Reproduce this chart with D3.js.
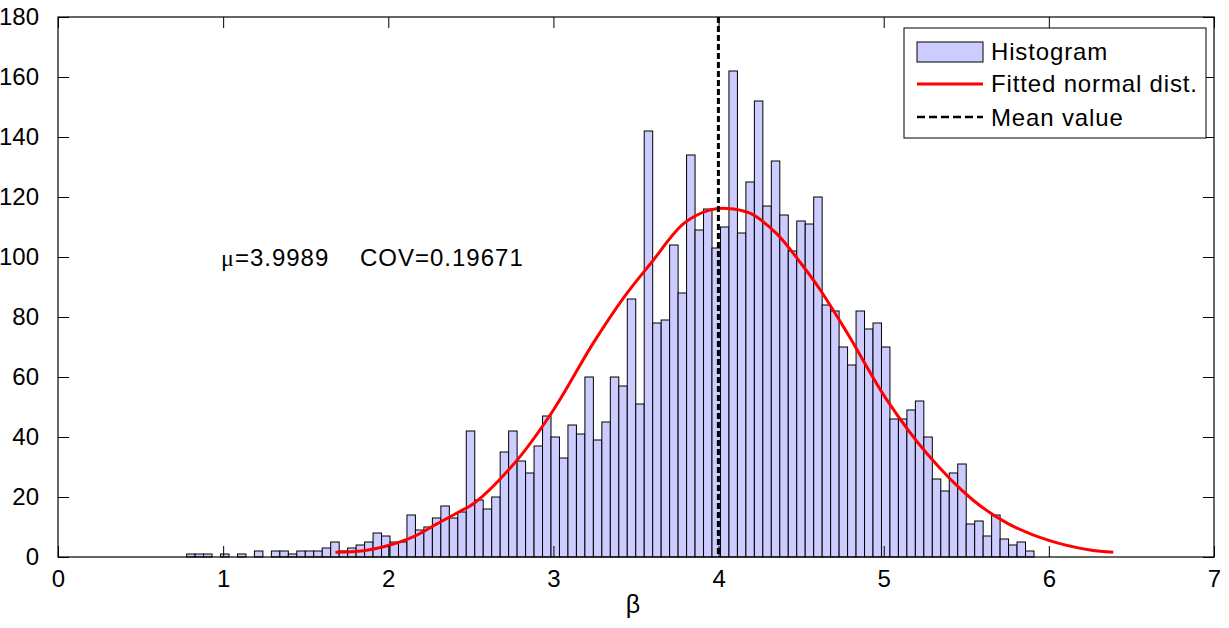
<!DOCTYPE html>
<html>
<head>
<meta charset="utf-8">
<script src="https://cdn.jsdelivr.net/npm/d3@7"></script>
<style>
  html, body { margin: 0; padding: 0; background: #fff; }
  svg { display: block; }
  text { font-family: "Liberation Sans", Arial, sans-serif; fill: #000; }
</style>
</head>
<body>
<svg id="chart" width="1229" height="628"></svg>
<script>
// ---- data ----
const binMin = 0.779;
const binMax = 5.910;
const counts = [
  1,1,1,0,1,0,1,0,2,0,
  2,2,1,2,2,2,3,5,2,3,
  4,5,8,7,5,5,14,9,10,13,
  17,13,15,42,19,16,20,35,42,32,
  28,37,47,40,33,44,41,60,39,45,
  60,57,86,51,142,78,79,104,88,134,
  109,116,103,110,162,108,125,152,117,132,
  114,102,112,111,120,84,82,70,64,82,
  76,78,70,46,46,49,52,40,26,22,
  28,31,11,12,7,14,6,4,5,2
];
const fitX = [1.68,1.85,2.01,2.15,2.30,2.43,2.52,2.78,3.00,3.24,3.43,3.59,3.79,3.95,4.05,4.19,4.35,4.49,4.61,4.78,5.02,5.26,5.54,5.75,5.99,6.25,6.39];
const fitY = [1.6,2.1,4.0,6.7,11.2,15.1,17.9,32.3,49.0,71.2,86.8,97.9,111.2,115.7,116.2,114.6,107.9,98.5,89.5,74.6,52.3,34.6,19.0,11.2,5.7,2.3,1.6];
const meanValue = 3.9989;
const covValue = 0.19671;
const xTicks = [0,1,2,3,4,5,6,7];
const yTicks = [0,20,40,60,80,100,120,140,160,180];
const legendLabels = ["Histogram", "Fitted normal dist.", "Mean value"];

// ---- layout ----
const svg = d3.select("#chart");
const L = 58, R = 1214, T = 17, B = 557;
const x = d3.scaleLinear().domain([0, 7]).range([L, R]);
const y = d3.scaleLinear().domain([0, 180]).range([B, T]);
const nb = counts.length;
const bw = (binMax - binMin) / nb;

// bars
svg.append("g").selectAll("rect")
  .data(counts.map((c, i) => ({c, x0: binMin + i * bw, x1: binMin + (i + 1) * bw})).filter(d => d.c > 0))
  .join("rect")
  .attr("x", d => x(d.x0))
  .attr("width", d => x(d.x1) - x(d.x0))
  .attr("y", d => y(d.c))
  .attr("height", d => y(0) - y(d.c))
  .attr("fill", "#ccccff")
  .attr("stroke", "#000")
  .attr("stroke-width", 1);

// fitted curve
const fitData = fitX.map((v, i) => [v, fitY[i]]);
svg.append("path")
  .datum(fitData)
  .attr("fill", "none")
  .attr("stroke", "#ff0000")
  .attr("stroke-width", 3)
  .attr("stroke-linejoin", "round")
  .attr("d", d3.line().x(d => x(d[0])).y(d => y(d[1])).curve(d3.curveCatmullRom.alpha(0.5)));

// mean line
svg.append("line")
  .attr("x1", x(meanValue)).attr("x2", x(meanValue))
  .attr("y1", y(180)).attr("y2", y(0))
  .attr("stroke", "#000").attr("stroke-width", 3)
  .attr("stroke-dasharray", "6,3");

// axes box
svg.append("rect")
  .attr("x", L).attr("y", T).attr("width", R - L).attr("height", B - T)
  .attr("fill", "none").attr("stroke", "#000").attr("stroke-width", 1.2);

const tickLen = 11;
const axisBottom = d3.axisBottom(x).tickValues(xTicks).tickSize(-tickLen).tickFormat(d3.format("d"));
const gx = svg.append("g").attr("transform", `translate(0,${B})`).call(axisBottom);
const axisTop = d3.axisTop(x).tickValues(xTicks).tickSize(-tickLen).tickFormat("");
const gxt = svg.append("g").attr("transform", `translate(0,${T})`).call(axisTop);
const axisLeft = d3.axisLeft(y).tickValues(yTicks).tickSize(-tickLen).tickPadding(tickLen + 8).tickFormat(d3.format("d"));
const gy = svg.append("g").attr("transform", `translate(${L},0)`).call(axisLeft);
const axisRight = d3.axisRight(y).tickValues(yTicks).tickSize(-tickLen).tickFormat("");
const gyr = svg.append("g").attr("transform", `translate(${R},0)`).call(axisRight);
[gx, gxt, gy, gyr].forEach(g => {
  g.select(".domain").remove();
  g.selectAll(".tick line").attr("stroke", "#000").attr("stroke-width", 1);
  g.selectAll("text").attr("font-size", 24).attr("font-family", "'Liberation Sans', Arial, sans-serif").attr("fill", "#000");
});
gx.selectAll("text").attr("dy", "0.71em").attr("y", 13);

// x label
svg.append("text")
  .attr("x", 633).attr("y", 613)
  .attr("text-anchor", "middle")
  .attr("font-family", "'Liberation Serif', 'Times New Roman', serif")
  .attr("font-size", 25)
  .text("β");

// annotation
const ann = svg.append("text").attr("x", 221).attr("y", 266).attr("font-size", 24).attr("letter-spacing", 1);
ann.append("tspan").attr("font-family", "'Liberation Serif', serif").attr("font-size", 24).text("μ");
ann.append("tspan").attr("xml:space", "preserve").style("white-space", "pre")
  .text("=" + meanValue.toFixed(4) + "    COV=" + covValue.toFixed(5));

// legend
const lg = svg.append("g");
lg.append("rect").attr("x", 904).attr("y", 28).attr("width", 302).attr("height", 110)
  .attr("fill", "#fff").attr("stroke", "#000").attr("stroke-width", 1);
lg.append("rect").attr("x", 917).attr("y", 42).attr("width", 66).attr("height", 20)
  .attr("fill", "#ccccff").attr("stroke", "#000").attr("stroke-width", 1);
lg.append("line").attr("x1", 917).attr("x2", 983).attr("y1", 84).attr("y2", 84)
  .attr("stroke", "#ff0000").attr("stroke-width", 3);
lg.append("line").attr("x1", 917).attr("x2", 983).attr("y1", 117).attr("y2", 117)
  .attr("stroke", "#000").attr("stroke-width", 2.5).attr("stroke-dasharray", "8,4");
const legY = [60, 92, 126];
lg.selectAll("text.leg").data(legendLabels).join("text")
  .attr("class", "leg")
  .attr("x", 991).attr("y", (d, i) => legY[i])
  .attr("font-size", 24)
  .attr("letter-spacing", 0.85)
  .text(d => d);
</script>
</body>
</html>
